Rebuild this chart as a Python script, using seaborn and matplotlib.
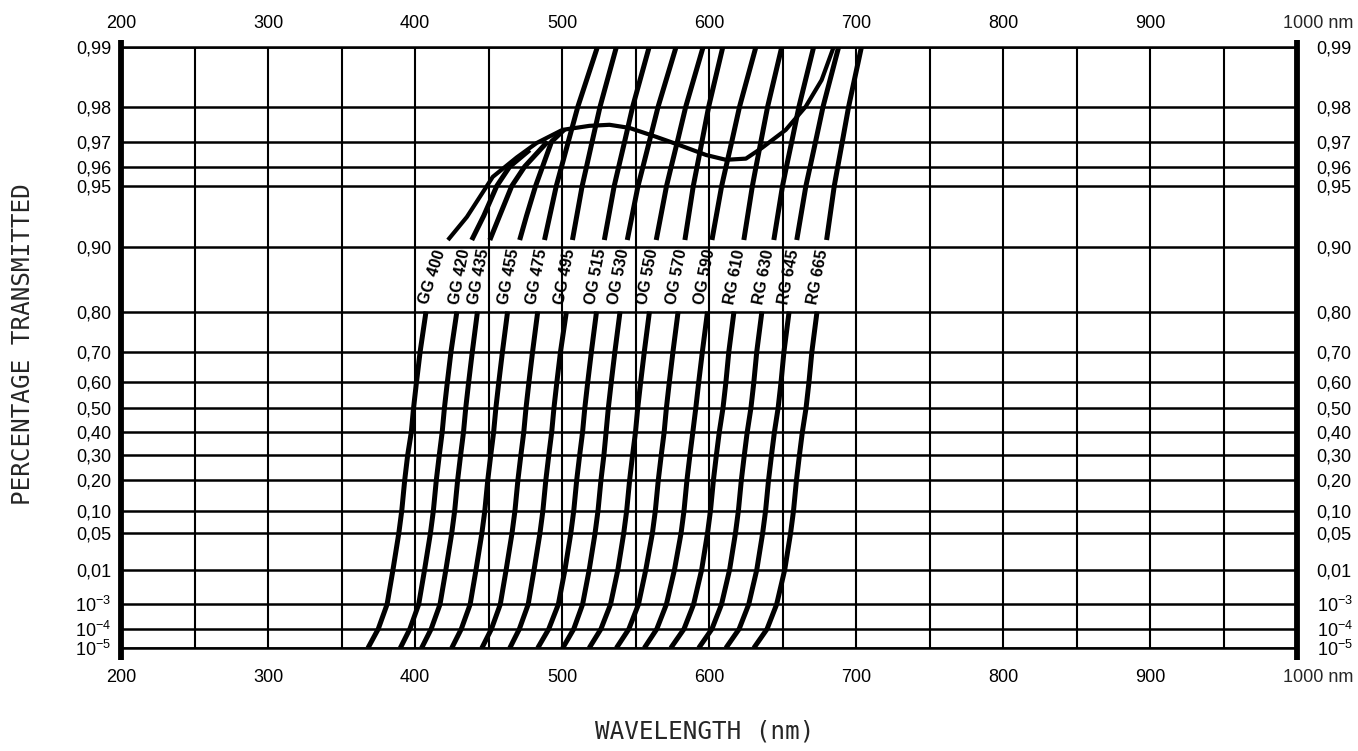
import numpy as np
import matplotlib
matplotlib.use("Agg")
import matplotlib.pyplot as plt
import matplotlib.transforms as mtrans
from matplotlib.ticker import FixedLocator, NullLocator
import seaborn as sns
import pandas as pd

# ---------------- data ----------------
filters = ["GG 400", "GG 420", "GG 435", "GG 455", "GG 475", "GG 495",
           "OG 515", "OG 530", "OG 550", "OG 570", "OG 590",
           "RG 610", "RG 630", "RG 645", "RG 665"]

# transmission levels of the lower part of each curve
t_low = [1e-5, 1e-4, 1e-3, 0.01, 0.05, 0.10, 0.20, 0.30, 0.40, 0.50, 0.60, 0.70, 0.80]

gg400_low = [368, 375, 381, 385, 389, 391, 393, 395, 397.5, 399, 401, 403.5, 407.5]
gg420_low = [390, 396.5, 402.5, 406.5, 410.5, 412.5, 414.5, 416.5, 418.5, 420, 422, 424.5, 428.5]
gg435_low = [404.5, 411, 417, 421, 425, 427, 429, 431, 433, 434.5, 436.5, 439, 442.5]
gg455_low = [425, 431.5, 437.5, 441.5, 445.5, 447.5, 449.5, 451.5, 453.5, 455, 457, 459.5, 463]
gg475_low = [445.5, 452, 458, 462, 466, 468, 470, 472, 474, 475.5, 477.5, 480, 483.5]
gg495_low = [464.5, 471, 477, 481, 485, 487, 489, 491, 493, 494.5, 496.5, 499, 503]
og515_low = [483.5, 491, 497.5, 502, 506, 508, 510, 512, 514, 515.5, 517.5, 520, 523.5]
og530_low = [500.5, 508, 514, 518.5, 522.5, 524.5, 526.5, 528.5, 530, 531.5, 533.5, 536, 539.5]
og550_low = [518.5, 526.5, 533, 538, 542, 544, 546, 548, 550, 551.5, 553.5, 556, 559.5]
og570_low = [537, 545.5, 552, 557, 561.5, 563.5, 565.5, 567.5, 569.5, 571, 573, 575.5, 579]
og590_low = [556, 564.5, 571, 576.5, 581, 583, 585, 587, 589, 591, 593, 595.5, 599]
rg610_low = [574, 583, 589.5, 595, 599, 601, 603, 605, 607, 609.5, 611.5, 613.5, 617]
rg630_low = [593, 602, 608.5, 614, 618, 620, 622, 624, 626, 628.5, 630.5, 632.5, 636]
rg645_low = [611.5, 620.5, 627, 632.5, 636.5, 638.5, 640.5, 642.5, 644.5, 647, 649, 651, 654.5]
rg665_low = [630.5, 639.5, 646, 651.5, 655.5, 657.5, 659.5, 661.5, 663.5, 666, 668, 670, 673.5]

# upper parts that run into the envelope
t_up_short = [0.908, 0.93, 0.95, 0.96, 0.967]
gg420_up = [438.6, 446.8, 455.6, 464.4, 478.0]
t_up_mid = [0.908, 0.93, 0.95, 0.96, 0.97]
gg435_up = [450.9, 457.6, 465.8, 474.6, 490.2]
t_up_gg455 = [0.908, 0.93, 0.95, 0.96, 0.97, 0.974]
gg455_up = [471.2, 475.9, 482.0, 486.8, 492.9, 501.7]

# upper parts that run to the top of the chart
t_up = [0.908, 0.95, 0.96, 0.97, 0.98, 0.99]
gg475_up = [488.1, 496.1, 499.7, 504.3, 510.8, 524.1]
gg495_up = [507.1, 513.7, 516.7, 520.5, 525.9, 537.0]
og515_up = [528.8, 535.5, 538.6, 542.6, 548.1, 559.3]
og530_up = [544.4, 551.7, 555.1, 559.4, 565.4, 577.6]
og550_up = [564.1, 571.1, 574.3, 578.5, 584.2, 596.0]
og570_up = [583.6, 589.3, 591.9, 595.2, 599.8, 609.4]
og590_up = [602.0, 608.6, 611.6, 615.5, 620.8, 631.9]
rg610_up = [623.7, 629.5, 632.0, 635.3, 639.9, 649.5]
rg630_up = [644.1, 650.0, 652.7, 656.3, 661.2, 671.2]
rg645_up = [659.7, 665.9, 668.8, 672.5, 677.6, 688.2]
rg665_up = [680.0, 685.2, 687.6, 690.7, 695.0, 703.7]

# GG 400 upper part = maximum transmission envelope
envelope_wl = [422.4, 435.3, 452.9, 469.2, 482.7, 500.3, 518.7, 532.3, 545.8, 564.1,
               579.7, 598.0, 611.5, 625.1, 635.9, 652.2, 665.8, 676.6, 684.8]
envelope_t = [0.908, 0.929, 0.955, 0.964, 0.9695, 0.9738, 0.9750, 0.9753, 0.9744, 0.9716,
              0.9688, 0.965, 0.963, 0.9635, 0.9677, 0.9738, 0.980, 0.9853, 0.990]

lows = [gg400_low, gg420_low, gg435_low, gg455_low, gg475_low, gg495_low, og515_low,
        og530_low, og550_low, og570_low, og590_low, rg610_low, rg630_low, rg645_low, rg665_low]
ups = [(envelope_wl, envelope_t), (gg420_up, t_up_short), (gg435_up, t_up_mid),
       (gg455_up, t_up_gg455), (gg475_up, t_up), (gg495_up, t_up), (og515_up, t_up),
       (og530_up, t_up), (og550_up, t_up), (og570_up, t_up), (og590_up, t_up),
       (rg610_up, t_up), (rg630_up, t_up), (rg645_up, t_up), (rg665_up, t_up)]

x_major = [200, 300, 400, 500, 600, 700, 800, 900, 1000]
x_major_labels = ["200", "300", "400", "500", "600", "700", "800", "900", ""]
x_minor = [250, 350, 450, 550, 650, 750, 850, 950]
y_ticks = [0.99, 0.98, 0.97, 0.96, 0.95, 0.90, 0.80, 0.70, 0.60, 0.50, 0.40, 0.30,
           0.20, 0.10, 0.05, 0.01, 1e-3, 1e-4, 1e-5]
y_labels = ["0,99", "0,98", "0,97", "0,96", "0,95", "0,90", "0,80", "0,70", "0,60",
            "0,50", "0,40", "0,30", "0,20", "0,10", "0,05", "0,01",
            r"$10^{-3}$", r"$10^{-4}$", r"$10^{-5}$"]

# ---------------- build long table ----------------
rows = []
for i, name in enumerate(filters):
    for w, t in zip(lows[i], t_low):
        rows.append((name + " low", "low", w, t))
    wl_u, t_u = ups[i]
    kind = "envelope" if i == 0 else "up"
    for w, t in zip(wl_u, t_u):
        rows.append((name + " up", kind, w, t))
df = pd.DataFrame(rows, columns=["seg", "kind", "wl", "T"])

# ---------------- style ----------------
sns.set_theme(style="white")
plt.rcParams["font.family"] = ["Liberation Sans", "DejaVu Sans"]
plt.rcParams["mathtext.fontset"] = "custom"
plt.rcParams["mathtext.rm"] = "Liberation Sans"
plt.rcParams["mathtext.it"] = "Liberation Sans"

fig = plt.figure(figsize=(13.58, 7.51), dpi=100)
ax = fig.add_axes([121 / 1358, 1 - 648 / 751, (1297 - 121) / 1358, (648 - 47) / 751])


def fwd(t):
    t = np.clip(np.asarray(t, dtype=float), 1e-12, 1 - 1e-9)
    return -np.log10(-np.log(t))


def inv(y):
    return np.exp(-10.0 ** (-np.asarray(y, dtype=float)))


ax.set_yscale("function", functions=(fwd, inv))

# ---------------- curves ----------------
for seg, g in df.groupby("seg", sort=False):
    lw = 3.0 if g["kind"].iloc[0] == "envelope" else 3.6
    sns.lineplot(data=g, x="wl", y="T", ax=ax, color="black", lw=lw, sort=False,
                 estimator=None, legend=False, solid_capstyle="butt",
                 solid_joinstyle="round", zorder=4)
ax.set_xlabel("")
ax.set_ylabel("")
ax.set_xlim(200, 1000)
ax.set_ylim(1e-5, 0.99)

# grid
ax.xaxis.set_major_locator(FixedLocator(x_major))
ax.xaxis.set_minor_locator(FixedLocator(x_minor))
ax.yaxis.set_major_locator(FixedLocator(y_ticks))
ax.yaxis.set_minor_locator(NullLocator())
ax.set_xticklabels(x_major_labels)
ax.set_yticklabels(y_labels)
ax.grid(True, axis="y", which="major", color="black", lw=1.8)
ax.grid(True, axis="x", which="both", color="black", lw=1.5)
ax.set_axisbelow(True)

for s in ["left", "right"]:
    ax.spines[s].set_visible(False)
for s in ["top", "bottom"]:
    ax.spines[s].set_linewidth(1.8)
    ax.spines[s].set_color("black")

# thick side bars extending beyond the frame
for xb in (0, 1):
    ax.plot([xb, xb], [-0.02, 1.012], transform=ax.transAxes, clip_on=False,
            color="black", lw=4.2, solid_capstyle="butt", zorder=5)

ax.tick_params(axis="both", which="both", length=0, labelsize=13, colors="black")
ax.tick_params(axis="y", labelleft=True, labelright=True, pad=7)
ax.tick_params(axis="x", labeltop=True, labelbottom=True, pad=15)

off_r = mtrans.ScaledTranslation(10 / 100, 0, fig.dpi_scale_trans)
for t in ax.yaxis.get_major_ticks():
    t.label2.set_transform(t.label2.get_transform() + off_r)
off_t = mtrans.ScaledTranslation(0, -6 / 100, fig.dpi_scale_trans)
for t in ax.xaxis.get_major_ticks():
    t.label2.set_transform(t.label2.get_transform() + off_t)

# "1000 nm" labels
xt = ax.get_xaxis_transform()
ax.text(1000, 1.0, "1000 nm", ha="left", va="bottom", fontsize=13,
        transform=xt + mtrans.ScaledTranslation(-14 / 100, 15 / 72 - 6 / 100,
                                                fig.dpi_scale_trans))
ax.text(1000, 0.0, "1000 nm", ha="left", va="top", fontsize=13,
        transform=xt + mtrans.ScaledTranslation(-14 / 100, -15 / 72, fig.dpi_scale_trans))

# filter labels between the two parts of each curve
for i, name in enumerate(filters):
    top_low = lows[i][-1]
    start_up = ups[i][0][0]
    xm = 0.5 * (top_low + start_up) - 3
    rot = 72 if i == 0 else 79
    ax.text(xm, 0.862, name, rotation=rot, rotation_mode="anchor", ha="center",
            va="center", fontsize=11.5, fontweight="bold", color="black", zorder=6)

fig.text(23 / 1358, 1 - 344 / 751, "PERCENTAGE TRANSMITTED", rotation=90,
         ha="center", va="center", fontsize=17.5, family="DejaVu Sans Mono")
fig.text(705 / 1358, 1 - 732 / 751, "WAVELENGTH (nm)", ha="center", va="center",
         fontsize=17.5, family="DejaVu Sans Mono")

fig.savefig("out.png", dpi=100, facecolor="white")
